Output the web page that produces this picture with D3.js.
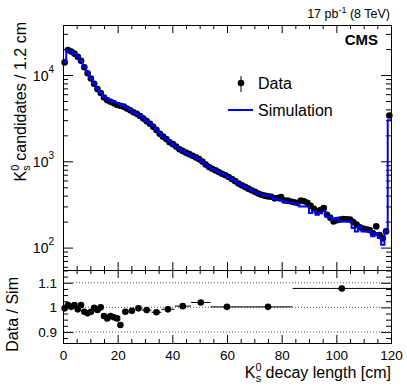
<!DOCTYPE html>
<html>
<head>
<meta charset="utf-8">
<script src="https://cdn.jsdelivr.net/npm/d3@7"></script>
<style>
  body { margin: 0; background: #fff; }
  text { font-family: "Liberation Sans", Arial, sans-serif; }
</style>
</head>
<body>
<svg id="chart"></svg>
<script>
// K0s decay length, 1.2 cm bins from 0 to 120 cm
var binWidth = 1.2
var dataCounts = [14000, 19500, 18700, 17700, 16300, 14600, 12300, 10500, 9100, 7900,
                  6900, 6200, 5500, 5100, 4900, 4700, 4500, 4400, 4300, 4100,
                  3900, 3700, 3550, 3350, 3130, 2920, 2720, 2510, 2300, 2080,
                  1930, 1810, 1660, 1580, 1480, 1380, 1320, 1260, 1210, 1160,
                  1110, 1060, 995, 920, 860, 820, 785, 750, 718, 690,
                  658, 624, 589, 552, 527, 505, 482, 462, 443, 423,
                  410, 400, 392, 388, 372, 375, 385, 352, 350, 342,
                  336, 329, 352, 345, 330, 305, 282, 262, 272, 288,
                  240, 222, 201, 208, 212, 214, 213, 211, 198, 185,
                  172, 166, 163, 160, 146, 176, 140, 128, 154, 3390]
var simCounts = [14100, 19300, 18600, 17500, 16400, 14500, 12500, 10700, 9250, 7950,
                 6950, 6250, 5650, 5300, 5080, 4880, 4700, 4600, 4400, 4160,
                 3960, 3740, 3570, 3370, 3160, 2950, 2760, 2560, 2340, 2110,
                 1950, 1820, 1680, 1590, 1480, 1390, 1310, 1250, 1200, 1150,
                 1100, 1050, 980, 920, 870, 820, 780, 745, 715, 690,
                 655, 620, 590, 555, 525, 505, 485, 462, 445, 425,
                 412, 402, 395, 400, 365, 359, 350, 343, 338, 330,
                 329, 320, 300, 300, 300, 252, 263, 241, 250, 263,
                 230, 225, 211, 220, 201, 201, 201, 200, 169, 154,
                 176, 154, 154, 154, 135, 148, 129, 108, 154, 3000]

// Data / Sim ratio, variable bins
var ratioEdges = [0, 1.2, 2.4, 3.6, 4.8, 6, 7.2, 8.4, 9.6, 10.8, 12, 13.2, 14.4, 15.6,
                  16.8, 18, 19.2, 20.4, 21.6, 24, 26.4, 28.8, 32.4, 36, 40.8, 46.8,
                  54, 66, 84, 120]
var ratioVals = [0.996, 1.009, 1.002, 1.009, 0.992, 1.009, 0.982, 0.976, 0.982, 0.998,
                 0.989, 1.000, 0.965, 0.955, 0.965, 0.960, 0.955, 0.928,
                 0.982, 0.986, 0.996, 0.989, 0.980, 0.992, 1.005, 1.020, 1.002, 1.002, 1.077]
var ratioErr = [0.004, 0.004, 0.004, 0.004, 0.004, 0.004, 0.004, 0.004, 0.004, 0.004,
                0.004, 0.004, 0.004, 0.004, 0.004, 0.004, 0.004, 0.005,
                0.004, 0.004, 0.004, 0.004, 0.005, 0.006, 0.008, 0.008, 0.008, 0.009, 0.012]

var xTicks = [0, 20, 40, 60, 80, 100, 120]
var xMinor = [5, 10, 15, 25, 30, 35, 45, 50, 55, 65, 70, 75, 85, 90, 95, 105, 110, 115]
var logTicks = [100, 1000, 10000]
var logMinor = [60, 70, 80, 90, 200, 300, 400, 500, 600, 700, 800, 900,
                2000, 3000, 4000, 5000, 6000, 7000, 8000, 9000, 20000, 30000]
var ratioTicks = [0.9, 1, 1.1]
var ratioMinor = [0.875, 0.925, 0.95, 0.975, 1.025, 1.05, 1.075, 1.125, 1.15]

var screen = {width: 407, height: 387}
var frame = {left: 63, right: 391, top: 25, split: 270, bottom: 343}

var svg = d3.select("#chart")
    .attr("width", screen.width)
    .attr("height", screen.height)

svg.append("rect").attr("width", screen.width).attr("height", screen.height).attr("fill", "#fff")

var xScale = d3.scaleLinear().domain([0, 120]).range([frame.left, frame.right])
var yScale = d3.scaleLog().domain([55, 38000]).range([frame.split, frame.top])
var rScale = d3.scaleLinear().domain([0.855, 1.152]).range([frame.bottom, frame.split])

// helper: put an axis somewhere, optionally strip its labels
var addAxis = function(axis, tx, ty, keepLabels) {
    var g = svg.append("g")
        .attr("transform", "translate(" + tx + "," + ty + ")")
        .call(axis)
    g.selectAll("line, path").attr("stroke", "#000").attr("stroke-width", 1)
    if (!keepLabels) g.selectAll("text").remove()
    return g
}

// ---------- main panel axes ----------
var yLeft = addAxis(d3.axisLeft(yScale).tickValues(logTicks).tickSizeInner(-10).tickSizeOuter(0).tickPadding(9), frame.left, 0, true)
addAxis(d3.axisLeft(yScale).tickValues(logMinor).tickSizeInner(-5).tickSizeOuter(0), frame.left, 0, false)
addAxis(d3.axisRight(yScale).tickValues(logTicks).tickSizeInner(-10).tickSizeOuter(0), frame.right, 0, false)
addAxis(d3.axisRight(yScale).tickValues(logMinor).tickSizeInner(-5).tickSizeOuter(0), frame.right, 0, false)
addAxis(d3.axisTop(xScale).tickValues(xTicks).tickSizeInner(-8).tickSizeOuter(0), 0, frame.top, false)
addAxis(d3.axisTop(xScale).tickValues(xMinor).tickSizeInner(-4).tickSizeOuter(0), 0, frame.top, false)
addAxis(d3.axisBottom(xScale).tickValues(xTicks).tickSizeInner(-8).tickSizeOuter(0), 0, frame.split, false)
addAxis(d3.axisBottom(xScale).tickValues(xMinor).tickSizeInner(-4).tickSizeOuter(0), 0, frame.split, false)

// 10^n labels
yLeft.selectAll(".tick text")
    .attr("font-size", 14)
    .attr("fill", "#000")
    .attr("dy", "0.36em")
    .each(function(d) {
        var t = d3.select(this).text("")
        t.append("tspan").text("10")
        t.append("tspan").attr("font-size", 10).attr("dy", -8).text(Math.round(Math.log10(d)))
    })

// ---------- ratio panel axes ----------
addAxis(d3.axisTop(xScale).tickValues(xTicks).tickSizeInner(-8).tickSizeOuter(0), 0, frame.split, false)
addAxis(d3.axisTop(xScale).tickValues(xMinor).tickSizeInner(-4).tickSizeOuter(0), 0, frame.split, false)
var xBot = addAxis(d3.axisBottom(xScale).tickValues(xTicks).tickSizeInner(-8).tickSizeOuter(0).tickPadding(7), 0, frame.bottom, true)
addAxis(d3.axisBottom(xScale).tickValues(xMinor).tickSizeInner(-4).tickSizeOuter(0), 0, frame.bottom, false)
xBot.selectAll(".tick text").attr("font-size", 13.5).attr("fill", "#000")

var rLeft = addAxis(d3.axisLeft(rScale).tickValues(ratioTicks).tickSizeInner(-10).tickSizeOuter(0).tickPadding(6).tickFormat(d3.format("")), frame.left, 0, true)
addAxis(d3.axisLeft(rScale).tickValues(ratioMinor).tickSizeInner(-5).tickSizeOuter(0), frame.left, 0, false)
addAxis(d3.axisRight(rScale).tickValues(ratioTicks).tickSizeInner(-10).tickSizeOuter(0), frame.right, 0, false)
addAxis(d3.axisRight(rScale).tickValues(ratioMinor).tickSizeInner(-5).tickSizeOuter(0), frame.right, 0, false)
rLeft.selectAll(".tick text").attr("font-size", 13.5).attr("fill", "#000")

// dotted reference lines
svg.append("g").selectAll("line")
    .data(ratioTicks).enter().append("line")
    .attr("x1", frame.left + 1).attr("x2", frame.right - 1)
    .attr("y1", function(d) { return rScale(d) }).attr("y2", function(d) { return rScale(d) })
    .attr("stroke", "#555").attr("stroke-width", 1).attr("stroke-dasharray", "1,2")

// ---------- simulation histogram ----------
var stepPts = []
simCounts.forEach(function(v, i) {
    stepPts.push([i * binWidth, v])
    stepPts.push([(i + 1) * binWidth, v])
})
var stepLine = d3.line()
    .x(function(p) { return xScale(p[0]) })
    .y(function(p) { return yScale(p[1]) })

// ---------- data points ----------
svg.append("g").selectAll("circle")
    .data(dataCounts).enter().append("circle")
    .attr("cx", function(d, i) { return xScale((i + 0.5) * binWidth) })
    .attr("cy", function(d) { return yScale(d) })
    .attr("r", 3.3)
    .attr("fill", "#000")

svg.append("path")
    .attr("d", stepLine(stepPts))
    .attr("fill", "none")
    .attr("stroke", "#0000ff")
    .attr("stroke-width", 2)

// ---------- ratio points ----------
var ratioPts = ratioVals.map(function(v, i) {
    return {lo: ratioEdges[i], hi: ratioEdges[i + 1], v: v, e: ratioErr[i]}
})
var rg = svg.append("g").selectAll("g").data(ratioPts).enter().append("g")
rg.append("line")
    .attr("x1", function(d) { return xScale(d.lo) }).attr("x2", function(d) { return xScale(d.hi) })
    .attr("y1", function(d) { return rScale(d.v) }).attr("y2", function(d) { return rScale(d.v) })
    .attr("stroke", "#000").attr("stroke-width", 1)
rg.append("line")
    .attr("x1", function(d) { return xScale((d.lo + d.hi) / 2) }).attr("x2", function(d) { return xScale((d.lo + d.hi) / 2) })
    .attr("y1", function(d) { return rScale(d.v - d.e) }).attr("y2", function(d) { return rScale(d.v + d.e) })
    .attr("stroke", "#000").attr("stroke-width", 1)
rg.append("circle")
    .attr("cx", function(d) { return xScale((d.lo + d.hi) / 2) })
    .attr("cy", function(d) { return rScale(d.v) })
    .attr("r", 3.3)
    .attr("fill", "#000")

// ---------- legend ----------
var leg = svg.append("g")
leg.append("line").attr("x1", 241).attr("x2", 241).attr("y1", 76).attr("y2", 92).attr("stroke", "#000")
leg.append("circle").attr("cx", 241).attr("cy", 83).attr("r", 3.3).attr("fill", "#000")
leg.append("text").attr("x", 258).attr("y", 89).attr("font-size", 16).text("Data")
leg.append("line").attr("x1", 228).attr("x2", 253).attr("y1", 110).attr("y2", 110).attr("stroke", "#0000ff").attr("stroke-width", 2)
leg.append("text").attr("x", 258).attr("y", 116).attr("font-size", 16).text("Simulation")

// ---------- labels ----------
svg.append("text").attr("x", 378).attr("y", 45).attr("text-anchor", "end")
    .attr("font-size", 15).attr("font-weight", "bold").text("CMS")

var lumi = svg.append("text").attr("x", 390).attr("y", 18).attr("text-anchor", "end").attr("font-size", 12.5)
lumi.append("tspan").text("17 pb")
lumi.append("tspan").attr("font-size", 9).attr("dy", -5).text("-1")
lumi.append("tspan").attr("dy", 5).text(" (8 TeV)")

// K0s with stacked sub/superscript
var kShort = function(t) {
    t.append("tspan").text("K")
    t.append("tspan").attr("font-size", 11).attr("dy", -7).text("0")
    t.append("tspan").attr("font-size", 11).attr("dx", -6).attr("dy", 11).text("s")
    return t.append("tspan").attr("dy", -4)
}
var xTitle = svg.append("text").attr("x", frame.right).attr("y", 378).attr("text-anchor", "end").attr("font-size", 16)
kShort(xTitle).text(" decay length [cm]")

var yTitle = svg.append("text").attr("transform", "translate(26,22) rotate(-90)").attr("text-anchor", "end").attr("font-size", 16)
kShort(yTitle).text(" candidates / 1.2 cm")

svg.append("text").attr("transform", "translate(18,277) rotate(-90)").attr("text-anchor", "end")
    .attr("font-size", 16).text("Data / Sim")
</script>
</body>
</html>
